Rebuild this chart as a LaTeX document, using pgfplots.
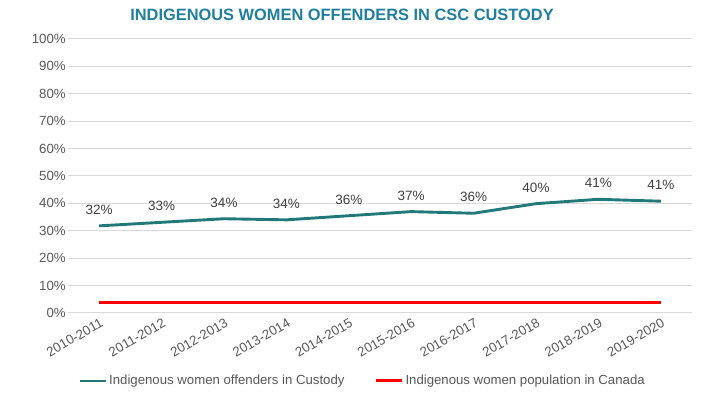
\documentclass[border=0pt]{standalone}
\usepackage{pgfplots}
\pgfplotsset{compat=1.18}
\usepackage{fontspec}
\setmainfont{Liberation Sans}
\definecolor{teal1}{HTML}{22797A}
\definecolor{titleblue}{HTML}{1F7FA0}
\definecolor{gridgray}{HTML}{D9D9D9}
\definecolor{ticktext}{HTML}{595959}
\definecolor{labeltext}{HTML}{404040}
\begin{document}
\begin{tikzpicture}[x=1pt,y=1pt]
\useasboundingbox (0,0) rectangle (721,396);
\node[font=\bfseries\fontsize{16.4}{19}\selectfont, text=titleblue] at (342,381.5) {INDIGENOUS WOMEN OFFENDERS IN CSC CUSTODY};
\begin{axis}[
 at={(68pt,83pt)}, anchor=south west,
 scale only axis, width=624pt, height=274pt,
 xmin=-0.5, xmax=9.5, ymin=0, ymax=100,
 axis line style={draw=none},
 clip=false,
 /pgf/number format/assume math mode=true,
 ytick={0,10,...,100},
 yticklabel={\pgfmathprintnumber{\tick}\%},
 xtick={0,...,9},
 xticklabels={2010-2011,2011-2012,2012-2013,2013-2014,2014-2015,2015-2016,2016-2017,2017-2018,2018-2019,2019-2020},
 x tick label style={rotate=30, anchor=north east, font=\fontsize{13.3}{15}\selectfont, text=ticktext, inner sep=2pt, yshift=-2pt},
 y tick label style={font=\fontsize{13.3}{15}\selectfont, text=ticktext, inner sep=2pt},
 major tick length=0pt,
 ymajorgrids, grid style={gridgray, line width=1pt},
 legend style={at={(0.472,-0.248)}, anchor=center, draw=none, legend columns=2, font=\fontsize{13.2}{15}\selectfont, text=ticktext, /tikz/every even column/.append style={column sep=28pt}},
 legend cell align=left,
 legend image code/.code={\draw[#1] (0pt,0pt) -- (26pt,0pt);},
]
\addplot[teal1, line width=2.9pt, nodes near coords={\pgfmathprintnumber{\pgfplotspointmeta}\%}, point meta=explicit,
 every node near coord/.style={anchor=center, yshift=16pt, font=\fontsize{13.5}{15}\selectfont, text=labeltext, /pgf/number format/assume math mode=true}]
 table[meta=lab] {
x y lab
0 31.8 32
1 33.1 33
2 34.4 34
3 34.0 34
4 35.5 36
5 37.0 37
6 36.4 36
7 39.9 40
8 41.5 41
9 40.8 41
};
\addlegendentry{Indigenous women offenders in Custody}
\addplot[red, line width=3.0pt] coordinates {(0,4) (1,4) (2,4) (3,4) (4,4) (5,4) (6,4) (7,4) (8,4) (9,4)};
\addlegendentry{Indigenous women population in Canada}
\end{axis}
\end{tikzpicture}
\end{document}
